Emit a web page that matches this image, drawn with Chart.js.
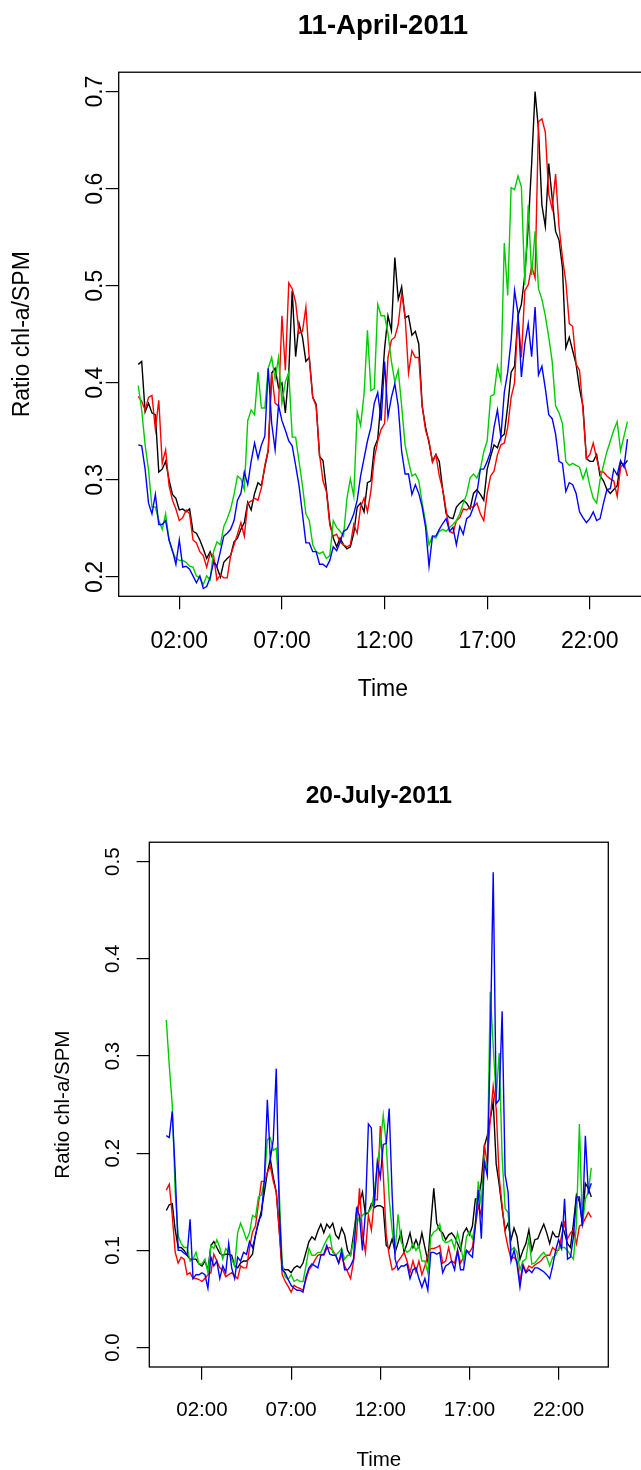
<!DOCTYPE html>
<html>
<head>
<meta charset="utf-8">
<title>Ratio chl-a/SPM</title>
<script src="https://cdn.jsdelivr.net/npm/chart.js@4.4.1/dist/chart.umd.min.js"></script>
<style>
    html, body { margin: 0; padding: 0; background: #fff; overflow: hidden; width: 641px; height: 1470px; }
    canvas { position: absolute; left: 0; }
    #chartApril { top: 0; }
    #chartJuly { top: 760px; }
</style>
</head>
<body>
<canvas id="chartApril" width="680" height="740"></canvas>
<canvas id="chartJuly" width="641" height="730"></canvas>
<script>
// 10-minute samples, 00:00 to 23:50
var stepHours = 1 / 6;
var hourTicks = [2, 7, 12, 17, 22];

// 11 April 2011
var aprilTicks = [0.2, 0.3, 0.4, 0.5, 0.6, 0.7];
var aprilBlack = [
    0.419, 0.422, 0.370, 0.379, 0.369, 0.367, 0.308, 0.311, 0.319, 0.300,
    0.285, 0.281, 0.269, 0.270, 0.267, 0.270, 0.247, 0.245, 0.238, 0.229,
    0.219, 0.226, 0.217, 0.210, 0.200, 0.215, 0.219, 0.222, 0.236, 0.240,
    0.249, 0.256, 0.277, 0.269, 0.286, 0.297, 0.294, 0.313, 0.330, 0.410,
    0.415, 0.395, 0.400, 0.369, 0.411, 0.495, 0.427, 0.461, 0.447, 0.422,
    0.426, 0.385, 0.378, 0.324, 0.320, 0.290, 0.256, 0.240, 0.231, 0.240,
    0.233, 0.229, 0.231, 0.245, 0.272, 0.276, 0.267, 0.297, 0.299, 0.333,
    0.342, 0.383, 0.435, 0.469, 0.454, 0.529, 0.486, 0.499, 0.467, 0.469,
    0.449, 0.453, 0.440, 0.376, 0.354, 0.338, 0.319, 0.326, 0.319, 0.290,
    0.265, 0.261, 0.260, 0.272, 0.276, 0.279, 0.276, 0.270, 0.286, 0.290,
    0.285, 0.279, 0.311, 0.324, 0.336, 0.333, 0.344, 0.347, 0.376, 0.411,
    0.417, 0.469, 0.481, 0.511, 0.561, 0.626, 0.700, 0.661, 0.583, 0.561,
    0.626, 0.590, 0.556, 0.547, 0.519, 0.436, 0.447, 0.433, 0.419, 0.394,
    0.376, 0.322, 0.319, 0.319, 0.326, 0.304, 0.299, 0.290, 0.286, 0.290,
    0.294, 0.318, 0.315, 0.320
];
var aprilRed = [
    0.386, 0.381, 0.372, 0.385, 0.387, 0.352, 0.382, 0.317, 0.331, 0.294,
    0.279, 0.270, 0.258, 0.261, 0.269, 0.265, 0.238, 0.235, 0.226, 0.222,
    0.210, 0.224, 0.222, 0.197, 0.202, 0.199, 0.199, 0.222, 0.233, 0.244,
    0.256, 0.242, 0.276, 0.278, 0.281, 0.279, 0.292, 0.315, 0.331, 0.410,
    0.379, 0.376, 0.469, 0.413, 0.503, 0.497, 0.483, 0.451, 0.453, 0.478,
    0.424, 0.385, 0.376, 0.326, 0.299, 0.288, 0.253, 0.242, 0.244, 0.236,
    0.233, 0.231, 0.233, 0.254, 0.245, 0.272, 0.281, 0.267, 0.288, 0.322,
    0.340, 0.352, 0.358, 0.426, 0.444, 0.447, 0.460, 0.492, 0.469, 0.410,
    0.433, 0.426, 0.426, 0.376, 0.351, 0.340, 0.318, 0.326, 0.304, 0.290,
    0.269, 0.247, 0.245, 0.258, 0.261, 0.270, 0.269, 0.272, 0.272, 0.276,
    0.265, 0.258, 0.286, 0.304, 0.309, 0.326, 0.336, 0.338, 0.354, 0.385,
    0.400, 0.469, 0.426, 0.495, 0.501, 0.520, 0.508, 0.669, 0.672, 0.658,
    0.594, 0.579, 0.615, 0.561, 0.529, 0.504, 0.461, 0.458, 0.419, 0.413,
    0.372, 0.322, 0.326, 0.338, 0.322, 0.308, 0.308, 0.304, 0.301, 0.299,
    0.283, 0.313, 0.317, 0.304
];
var aprilGreen = [
    0.397, 0.372, 0.336, 0.310, 0.272, 0.272, 0.258, 0.249, 0.265, 0.238,
    0.226, 0.219, 0.217, 0.217, 0.215, 0.211, 0.210, 0.201, 0.199, 0.192,
    0.201, 0.197, 0.226, 0.236, 0.233, 0.252, 0.260, 0.270, 0.285, 0.304,
    0.301, 0.290, 0.361, 0.372, 0.367, 0.411, 0.374, 0.374, 0.415, 0.426,
    0.404, 0.426, 0.379, 0.401, 0.411, 0.344, 0.344, 0.319, 0.294, 0.265,
    0.258, 0.233, 0.226, 0.224, 0.226, 0.219, 0.222, 0.258, 0.251, 0.247,
    0.242, 0.281, 0.301, 0.283, 0.370, 0.356, 0.388, 0.454, 0.392, 0.394,
    0.481, 0.469, 0.469, 0.451, 0.422, 0.401, 0.413, 0.376, 0.336, 0.319,
    0.304, 0.306, 0.299, 0.276, 0.256, 0.233, 0.242, 0.240, 0.247, 0.249,
    0.247, 0.251, 0.254, 0.258, 0.265, 0.276, 0.285, 0.302, 0.306, 0.302,
    0.311, 0.329, 0.340, 0.386, 0.388, 0.417, 0.402, 0.544, 0.490, 0.601,
    0.599, 0.613, 0.602, 0.501, 0.583, 0.511, 0.556, 0.497, 0.486, 0.469,
    0.447, 0.422, 0.376, 0.369, 0.358, 0.319, 0.315, 0.317, 0.315, 0.313,
    0.301, 0.311, 0.294, 0.281, 0.276, 0.300, 0.315, 0.329, 0.340, 0.351,
    0.360, 0.330, 0.345, 0.360
];
var aprilBlue = [
    0.336, 0.335, 0.311, 0.276, 0.265, 0.285, 0.254, 0.254, 0.258, 0.238,
    0.227, 0.213, 0.238, 0.210, 0.211, 0.208, 0.201, 0.194, 0.201, 0.188,
    0.190, 0.199, 0.215, 0.211, 0.226, 0.242, 0.245, 0.249, 0.258, 0.279,
    0.286, 0.308, 0.295, 0.319, 0.338, 0.322, 0.336, 0.345, 0.415, 0.358,
    0.331, 0.377, 0.361, 0.351, 0.340, 0.335, 0.315, 0.294, 0.265, 0.235,
    0.235, 0.226, 0.226, 0.213, 0.213, 0.210, 0.217, 0.231, 0.227, 0.236,
    0.247, 0.249, 0.256, 0.265, 0.279, 0.304, 0.322, 0.340, 0.354, 0.379,
    0.390, 0.361, 0.422, 0.365, 0.385, 0.399, 0.376, 0.329, 0.306, 0.306,
    0.285, 0.295, 0.286, 0.272, 0.251, 0.211, 0.242, 0.242, 0.249, 0.255,
    0.260, 0.247, 0.251, 0.233, 0.252, 0.244, 0.260, 0.263, 0.272, 0.286,
    0.311, 0.311, 0.319, 0.329, 0.354, 0.372, 0.344, 0.390, 0.411, 0.444,
    0.495, 0.472, 0.406, 0.440, 0.461, 0.427, 0.478, 0.408, 0.417, 0.394,
    0.367, 0.363, 0.347, 0.319, 0.317, 0.288, 0.297, 0.295, 0.286, 0.267,
    0.261, 0.256, 0.260, 0.267, 0.258, 0.260, 0.276, 0.290, 0.291, 0.311,
    0.305, 0.320, 0.313, 0.342
];

// 20 July 2011
var julyTicks = [0.0, 0.1, 0.2, 0.3, 0.4, 0.5];
var julyBlack = [
    0.141, 0.147, 0.148, 0.121, 0.103, 0.103, 0.100, 0.095, 0.091, 0.091,
    0.091, 0.086, 0.084, 0.089, 0.080, 0.105, 0.109, 0.103, 0.097, 0.095,
    0.096, 0.096, 0.095, 0.084, 0.082, 0.087, 0.089, 0.089, 0.092, 0.096,
    0.116, 0.128, 0.141, 0.160, 0.180, 0.194, 0.175, 0.160, 0.121, 0.082,
    0.080, 0.080, 0.077, 0.082, 0.084, 0.082, 0.087, 0.098, 0.109, 0.114,
    0.111, 0.120, 0.127, 0.118, 0.127, 0.123, 0.128, 0.116, 0.112, 0.123,
    0.116, 0.100, 0.095, 0.116, 0.139, 0.150, 0.160, 0.137, 0.139, 0.148,
    0.144, 0.146, 0.146, 0.144, 0.105, 0.102, 0.112, 0.098, 0.108, 0.119,
    0.098, 0.107, 0.118, 0.103, 0.111, 0.103, 0.118, 0.103, 0.089, 0.127,
    0.164, 0.128, 0.121, 0.118, 0.111, 0.116, 0.118, 0.114, 0.107, 0.100,
    0.118, 0.123, 0.116, 0.125, 0.153, 0.153, 0.171, 0.207, 0.218, 0.235,
    0.253, 0.189, 0.168, 0.143, 0.121, 0.128, 0.111, 0.123, 0.114, 0.091,
    0.100, 0.107, 0.121, 0.100, 0.111, 0.112, 0.120, 0.127, 0.118, 0.107,
    0.119, 0.114, 0.114, 0.128, 0.118, 0.107, 0.103, 0.128, 0.157, 0.150,
    0.128, 0.169, 0.164, 0.155
];
var julyRed = [
    0.162, 0.168, 0.136, 0.098, 0.087, 0.093, 0.091, 0.075, 0.077, 0.071,
    0.071, 0.070, 0.068, 0.071, 0.075, 0.077, 0.096, 0.089, 0.082, 0.080,
    0.073, 0.075, 0.077, 0.074, 0.071, 0.084, 0.082, 0.082, 0.102, 0.119,
    0.125, 0.148, 0.171, 0.171, 0.180, 0.187, 0.171, 0.160, 0.121, 0.075,
    0.068, 0.063, 0.057, 0.064, 0.062, 0.061, 0.059, 0.070, 0.080, 0.084,
    0.090, 0.095, 0.096, 0.095, 0.102, 0.103, 0.100, 0.095, 0.087, 0.095,
    0.084, 0.078, 0.071, 0.089, 0.114, 0.164, 0.116, 0.098, 0.136, 0.121,
    0.152, 0.152, 0.228, 0.178, 0.116, 0.095, 0.080, 0.082, 0.089, 0.093,
    0.098, 0.089, 0.077, 0.089, 0.078, 0.089, 0.075, 0.084, 0.095, 0.102,
    0.102, 0.103, 0.105, 0.087, 0.089, 0.103, 0.089, 0.087, 0.100, 0.087,
    0.093, 0.100, 0.098, 0.103, 0.125, 0.146, 0.136, 0.209, 0.189, 0.235,
    0.269, 0.246, 0.175, 0.146, 0.118, 0.103, 0.091, 0.093, 0.089, 0.068,
    0.086, 0.078, 0.084, 0.082, 0.085, 0.087, 0.089, 0.093, 0.095, 0.095,
    0.103, 0.100, 0.100, 0.115, 0.128, 0.112, 0.118, 0.121, 0.107, 0.125,
    0.127, 0.133, 0.139, 0.134
];
var julyGreen = [
    0.337, 0.290, 0.250, 0.160, 0.115, 0.107, 0.103, 0.103, 0.089, 0.091,
    0.098, 0.086, 0.086, 0.091, 0.077, 0.105, 0.102, 0.111, 0.103, 0.091,
    0.102, 0.098, 0.091, 0.084, 0.118, 0.128, 0.120, 0.111, 0.118, 0.136,
    0.134, 0.155, 0.157, 0.171, 0.214, 0.216, 0.203, 0.205, 0.160, 0.086,
    0.073, 0.070, 0.075, 0.068, 0.070, 0.068, 0.068, 0.084, 0.102, 0.095,
    0.095, 0.098, 0.098, 0.105, 0.111, 0.116, 0.098, 0.095, 0.098, 0.102,
    0.091, 0.095, 0.095, 0.110, 0.136, 0.130, 0.136, 0.139, 0.139, 0.144,
    0.160, 0.189, 0.209, 0.239, 0.210, 0.153, 0.120, 0.100, 0.137, 0.109,
    0.102, 0.098, 0.100, 0.107, 0.100, 0.105, 0.089, 0.089, 0.077, 0.114,
    0.119, 0.121, 0.127, 0.111, 0.108, 0.109, 0.111, 0.102, 0.118, 0.105,
    0.089, 0.114, 0.119, 0.112, 0.128, 0.171, 0.146, 0.194, 0.184, 0.366,
    0.310, 0.257, 0.303, 0.196, 0.143, 0.139, 0.100, 0.103, 0.098, 0.080,
    0.089, 0.091, 0.112, 0.086, 0.087, 0.091, 0.095, 0.098, 0.093, 0.084,
    0.093, 0.095, 0.102, 0.103, 0.103, 0.100, 0.095, 0.091, 0.127, 0.230,
    0.125, 0.153, 0.160, 0.185
];
var julyBlue = [
    0.218, 0.216, 0.243, 0.180, 0.100, 0.100, 0.097, 0.095, 0.132, 0.071,
    0.075, 0.075, 0.077, 0.075, 0.061, 0.093, 0.084, 0.089, 0.071, 0.084,
    0.077, 0.107, 0.082, 0.071, 0.093, 0.089, 0.098, 0.096, 0.109, 0.103,
    0.115, 0.130, 0.136, 0.173, 0.255, 0.194, 0.214, 0.287, 0.143, 0.080,
    0.077, 0.070, 0.064, 0.061, 0.059, 0.059, 0.057, 0.073, 0.082, 0.086,
    0.084, 0.082, 0.095, 0.096, 0.105, 0.096, 0.095, 0.095, 0.087, 0.100,
    0.080, 0.080, 0.084, 0.091, 0.143, 0.136, 0.100, 0.139, 0.230, 0.226,
    0.146, 0.191, 0.175, 0.209, 0.210, 0.246, 0.157, 0.091, 0.080, 0.084,
    0.084, 0.086, 0.071, 0.080, 0.082, 0.071, 0.062, 0.071, 0.059, 0.098,
    0.098, 0.096, 0.098, 0.077, 0.084, 0.086, 0.089, 0.080, 0.100, 0.080,
    0.080, 0.100, 0.096, 0.093, 0.127, 0.162, 0.112, 0.191, 0.177, 0.310,
    0.489, 0.251, 0.255, 0.346, 0.178, 0.160, 0.089, 0.100, 0.086, 0.062,
    0.084, 0.077, 0.080, 0.077, 0.082, 0.082, 0.080, 0.078, 0.075, 0.071,
    0.084, 0.100, 0.111, 0.102, 0.153, 0.091, 0.093, 0.114, 0.155, 0.155,
    0.125, 0.218, 0.160, 0.169
];

Chart.defaults.font.family = "'Liberation Sans', Arial, Helvetica, sans-serif";
Chart.defaults.color = '#000';

// box round the plot region, like R's frame
var plotBox = {
    id: 'plotBox',
    afterDatasetsDraw: function (chart) {
        var a = chart.chartArea;
        var ctx = chart.ctx;
        ctx.save();
        ctx.strokeStyle = '#000';
        ctx.lineWidth = 1.3;
        ctx.strokeRect(a.left, a.top, a.right - a.left, a.bottom - a.top);
        ctx.restore();
    }
};

function toPoints(values) {
    return values.map(function (v, i) { return { x: i * stepHours, y: v }; });
}

function line(values, color, order) {
    return {
        data: toPoints(values),
        borderColor: color,
        borderWidth: 1.4,
        pointRadius: 0,
        tension: 0,
        fill: false,
        order: order,
    };
}

function hourLabel(v) {
    return (v < 10 ? '0' : '') + v + ':00';
}

function drawPanel(id, cfg) {
    var tickGrid = {
        display: true,
        drawOnChartArea: false,
        drawTicks: true,
        tickLength: cfg.tickLength,
        color: '#000',
        lineWidth: 1.2,
    };
    return new Chart(document.getElementById(id).getContext('2d'), {
        type: 'line',
        data: {
            datasets: [
                line(cfg.black, '#000000', 4),
                line(cfg.red, '#FF0000', 3),
                line(cfg.green, '#00CD00', 2),
                line(cfg.blue, '#0000FF', 1),
            ],
        },
        options: {
            responsive: false,
            animation: false,
            events: [],
            layout: { padding: { left: 0, top: 0, right: cfg.padRight, bottom: 0 } },
            plugins: {
                legend: { display: false },
                tooltip: { enabled: false },
                title: {
                    display: true,
                    text: cfg.title,
                    fullSize: false,
                    color: '#000',
                    font: { size: cfg.titleSize, weight: 'bold' },
                    padding: { top: cfg.titleTop, bottom: cfg.titleBottom },
                },
            },
            scales: {
                x: {
                    type: 'linear',
                    min: -0.9533,
                    max: 24.7867,
                    afterBuildTicks: function (s) {
                        s.ticks = hourTicks.map(function (v) { return { value: v }; });
                    },
                    afterFit: function (s) { s.height = cfg.xHeight; },
                    ticks: {
                        autoSkip: false,
                        maxRotation: 0,
                        padding: cfg.xTickPad,
                        font: { size: cfg.fontSize },
                        callback: function (v) { return hourLabel(v); },
                    },
                    grid: tickGrid,
                    border: { display: false },
                    title: {
                        display: true,
                        text: 'Time',
                        font: { size: cfg.fontSize },
                        padding: { top: 0, bottom: cfg.xTitlePad },
                    },
                },
                y: {
                    min: cfg.yMin,
                    max: cfg.yMax,
                    afterBuildTicks: function (s) {
                        s.ticks = cfg.yTicks.map(function (v) { return { value: v }; });
                    },
                    afterFit: function (s) { s.width = cfg.yWidth; },
                    ticks: {
                        autoSkip: false,
                        minRotation: 90,
                        maxRotation: 90,
                        crossAlign: 'center',
                        padding: cfg.yTickPad,
                        font: { size: cfg.fontSize },
                        callback: function (v) { return v.toFixed(1); },
                    },
                    grid: tickGrid,
                    border: { display: false },
                    title: {
                        display: true,
                        text: 'Ratio chl-a/SPM',
                        font: { size: cfg.fontSize },
                        padding: { top: cfg.yTitlePad, bottom: 0 },
                    },
                },
            },
        },
        plugins: [plotBox],
    });
}

drawPanel('chartApril', {
    title: '11-April-2011',
    black: aprilBlack, red: aprilRed, green: aprilGreen, blue: aprilBlue,
    yMin: 0.18, yMax: 0.72, yTicks: aprilTicks,
    fontSize: 23, titleSize: 27.6, titleTop: 9.5, titleBottom: 29.6,
    tickLength: 13, padRight: 33,
    yWidth: 118.7, yTickPad: -5.5, yTitlePad: 9,
    xHeight: 143.7, xTickPad: 19, xTitlePad: 36.2,
});

drawPanel('chartJuly', {
    title: '20-July-2011',
    black: julyBlack, red: julyRed, green: julyGreen, blue: julyBlue,
    yMin: -0.02, yMax: 0.52, yTicks: julyTicks,
    fontSize: 20.5, titleSize: 24.6, titleTop: 21, titleBottom: 31.7,
    tickLength: 12.7, padRight: 32.7,
    yWidth: 149.3, yTickPad: 8.6, yTitlePad: 51,
    xHeight: 123, xTickPad: 18, xTitlePad: 17.7,
});
</script>
</body>
</html>
